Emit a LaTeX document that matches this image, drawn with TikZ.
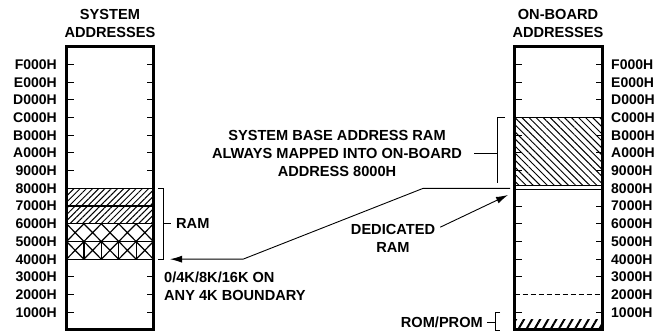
\documentclass[tikz,border=0pt]{standalone}
\usepackage{fontspec}
\setmainfont{Liberation Sans}
\usetikzlibrary{arrows.meta}
\usetikzlibrary{positioning}
\usetikzlibrary{patterns.meta}
\newcommand{\lv}[1]{(1+17.7*(#1))}
\newcommand{\ly}[1]{{\lv{#1}}}
\tikzset{
  lbl/.style={font=\bfseries\fontsize{14.6}{18}\selectfont, inner sep=0pt, align=center},
  hexlbl/.style={lbl, font=\bfseries\fontsize{14}{18}\selectfont},
  mapbox/.style={line width=3pt},
  addrtick/.style={line width=1pt},
  band/.style={line width=1.2pt},
  brace/.style={line width=0.9pt},
  maparrow/.style={line width=0.9pt, -{Latex[length=12pt,width=7pt]}}
}

\begin{document}
\begin{tikzpicture}[x=1pt,y=1pt]
    \useasboundingbox (0,0) rectangle (656,331);
    \coordinate (sys-bl) at (66.5,\ly{0});
    \coordinate (sys-tr) at (153.5,\ly{16});
    \coordinate (brd-bl) at (514.5,\ly{0});
    \coordinate (brd-tr) at (602.5,\ly{16});

    \fill[pattern={Lines[angle=45,distance=4.4pt,line width=1pt]}] (66.5,\ly{6}) rectangle (153.5,\ly{8});
    \foreach \r in {4,5} {
        \foreach \i in {0,...,4} {
            \draw[band] ({66.5+17.4*\i},\ly{\r}) -- ({66.5+17.4*(\i+1)},\ly{\r+1})
                        ({66.5+17.4*\i},\ly{\r+1}) -- ({66.5+17.4*(\i+1)},\ly{\r});
          }
      }
    \foreach \i in {1,...,4} {
        \draw[band] ({66.5+17.4*\i},\ly{4}) -- ({66.5+17.4*\i},\ly{5});
      }
    \foreach \k in {4,...,8} {
        \draw[band] (66.5,\ly{\k}) -- (153.5,\ly{\k});
      }
    \foreach \k in {1,2,3,9,10,11,12,13,14,15} {
        \draw[addrtick] (66.5,\ly{\k}) -- ++(7,0);
        \draw[addrtick] (153.5,\ly{\k}) -- ++(-7,0);
      }
    \draw[mapbox] (sys-bl) rectangle (sys-tr);

    \filldraw[band, fill=white, pattern={Lines[angle=-45,distance=5pt,line width=1pt]}]
        (514.5,{\lv{8}+3}) rectangle (602.5,\ly{12});
    \draw[band, line width=1.5pt] (514.5,{\lv{8}-1}) -- (602.5,{\lv{8}-1});
    \fill[pattern={Lines[angle=60,distance=7pt,line width=2pt]}] (514.5,1) rectangle (602.5,11);
    \draw[addrtick, dash pattern=on 5pt off 3pt] (514.5,\ly{2}) -- (602.5,\ly{2});
    \foreach \k in {1,3,4,5,6,7,9,10,11,13,14,15} {
        \draw[addrtick] (514.5,\ly{\k}) -- ++(7,0);
        \draw[addrtick] (602.5,\ly{\k}) -- ++(-7,0);
      }
    \draw[mapbox] (brd-bl) rectangle (brd-tr);

    \foreach \k/\h in {1/1,2/2,3/3,4/4,5/5,6/6,7/7,8/8,9/9,10/A,11/B,12/C,13/D,14/E,15/F} {
        \node[hexlbl, anchor=east] (sys-\k) at (57,\ly{\k}) {\h000H};
        \node[hexlbl, anchor=west] (brd-\k) at (611,\ly{\k}) {\h000H};
      }
    \node[lbl] (sys-head) at (110,308) {SYSTEM\\ADDRESSES};
    \node[lbl] (brd-head) at (558,308) {ON-BOARD\\ADDRESSES};

    \node[lbl, anchor=west] (ram) at (176,\ly{6}) {RAM};
    \node[lbl, anchor=west, align=left] (bound) at (164,45) {0/4K/8K/16K ON\\ANY 4K BOUNDARY};
    \node[lbl] (base) at (337,178) {SYSTEM BASE ADDRESS RAM\\ALWAYS MAPPED INTO ON-BOARD\\ADDRESS 8000H};
    \node[lbl] (ded) at (393,92.5) {DEDICATED\\RAM};
    \node[lbl, anchor=east] (rom) at (483,9) {ROM/PROM};

    \coordinate (ram-top) at (158,\ly{8});
    \coordinate (ram-bot) at (158,\ly{4});
    \draw[brace] (ram-top) -- ++(5,0) |- (ram-bot);
    \draw[brace] (163,\ly{6}) -- ([xshift=-5pt]ram.west);

    \coordinate (base-top) at (505,\ly{12});
    \coordinate (base-bot) at (497,148);
    \draw[brace] (base-top) -- ++(-8,0) -- (base-bot);
    \draw[brace] ([xshift=12pt]base.east) -- (497,178);

    \coordinate (rom-top) at (500,\ly{1});
    \coordinate (rom-bot) at (500,1);
    \draw[brace] (rom-top) -- ++(-5,0) |- (rom-bot);
    \draw[brace] (495,9) -- ([xshift=4pt]rom.east);

    \coordinate (map-from) at (170,\ly{4});
    \coordinate (map-to) at (510,\ly{8});
    \draw[maparrow, {Latex[length=12pt,width=7pt]}-] (map-from) -- (243,\ly{4}) -- (423,\ly{8}) -- (map-to);

    \coordinate (ded-to) at (508,136);
    \draw[maparrow] ([xshift=5pt,yshift=-3pt]ded.north east) -- (ded-to);
  \end{tikzpicture}
\end{document}
